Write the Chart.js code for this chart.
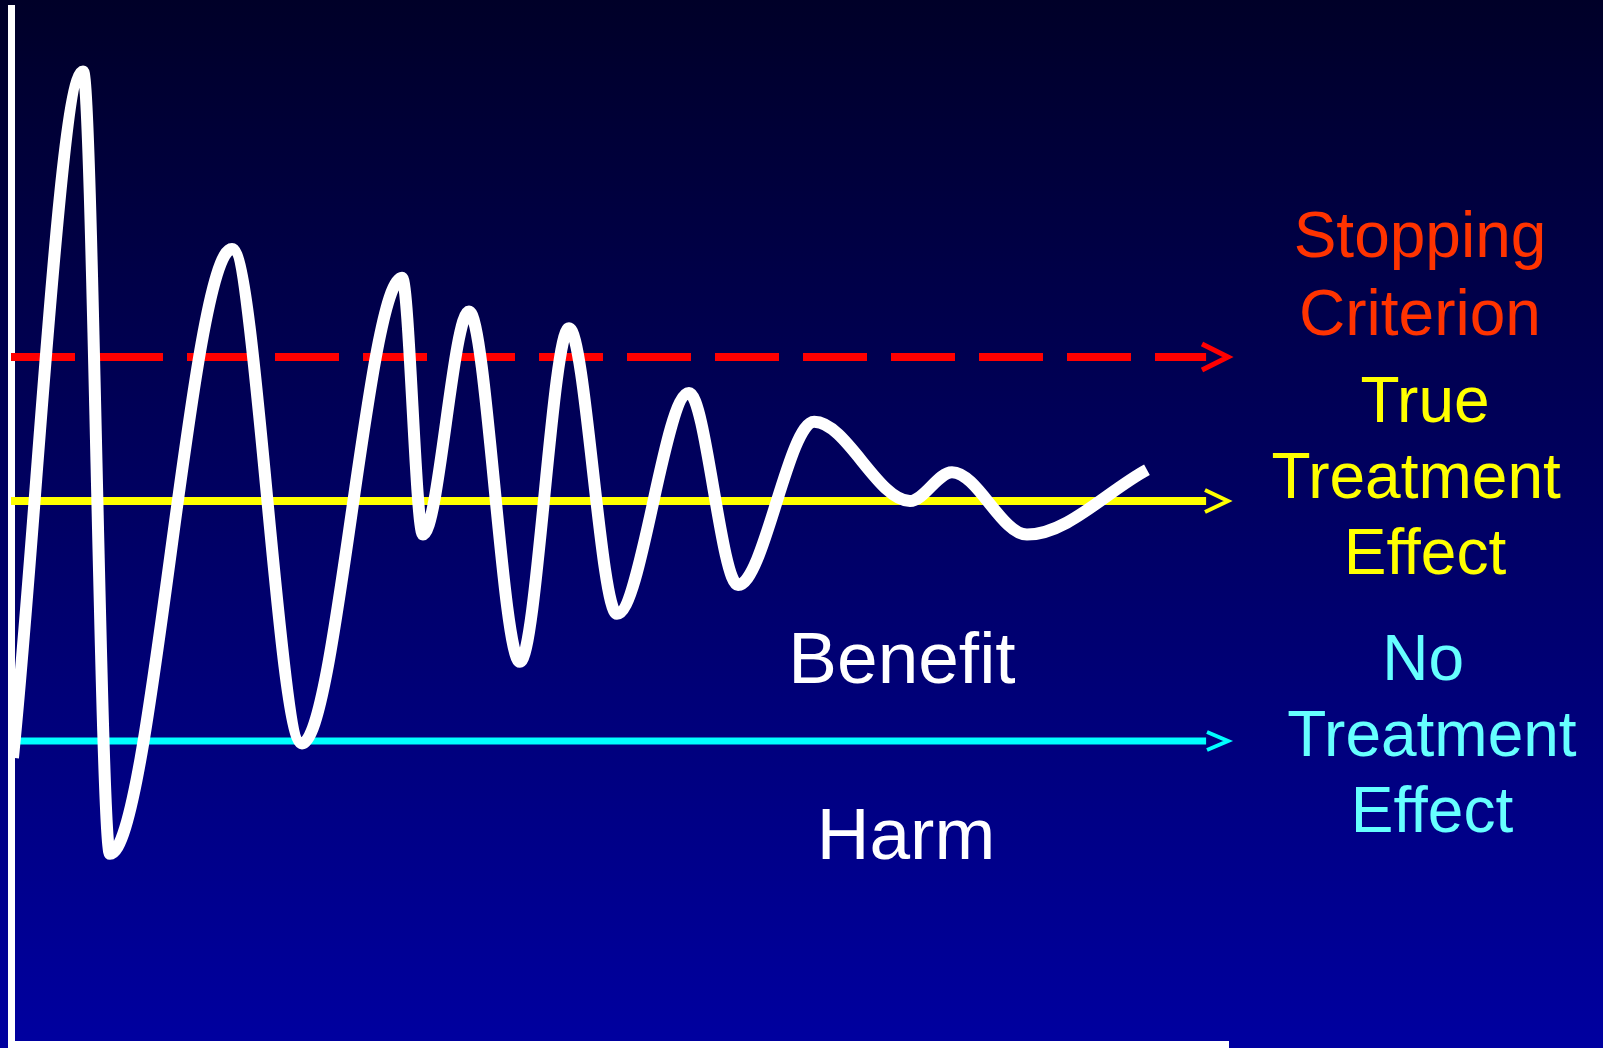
<!DOCTYPE html>
<html>
<head>
<meta charset="utf-8">
<script src="https://cdn.jsdelivr.net/npm/chart.js@4.4.0/dist/chart.umd.min.js"></script>
<style>
  html, body { margin: 0; padding: 0; }
  body {
    width: 1603px; height: 1048px; overflow: hidden; position: relative;
    background: linear-gradient(to bottom, #000028 0%, #0000a0 100%);
    font-family: "Liberation Sans", Arial, sans-serif;
  }
  #trialChart { position: absolute; left: 0; top: 0; }
  .label { position: absolute; width: 400px; text-align: center; font-size: 64px; white-space: nowrap; }
  .zone { font-size: 73px; line-height: 73px; color: #ffffff; }
</style>
</head>
<body>
<canvas id="trialChart" width="1603" height="1048"></canvas>
<div class="label" style="left:1220px; top:196px; line-height:78px; color:#ff3300">Stopping<br>Criterion</div>
<div class="label" style="left:1225px; top:362px; line-height:76px; color:#ffff00">True<br>Treatment&nbsp;<br>Effect</div>
<div class="label" style="left:1232px; top:620px; line-height:76px; color:#66ffff">No&nbsp;<br>Treatment<br>Effect</div>
<div class="label zone" style="left:702px; top:621px;">Benefit</div>
<div class="label zone" style="left:706px; top:797px;">Harm</div>
<script>
// interim looks at the data (x) and the observed treatment effect (y)
// y: 0 = no treatment effect, 1 = true treatment effect
// turning points of the curve
const looks = [
  0.16, 5.92, 8.13, 18.16, 23.91, 32.13, 33.85, 37.63, 41.82,
  45.85, 49.79, 55.71, 59.74, 66.0, 73.87, 77.32, 83.48, 93.34
];
const observed = [
  -0.07, 2.79, -0.47, 2.05, -0.01, 1.93, 0.86, 1.79, 0.33,
  1.72, 0.53, 1.45, 0.65, 1.33, 1.00, 1.12, 0.86, 1.13
];

// horizontal reference levels
const refNames = ['Stopping Criterion', 'True Treatment Effect', 'No Treatment Effect'];
const refLevels = [1.6, 1.0, 0];
const refStart = 0;
const refEnd = 98.2;

const refLine = (i) => [{ x: refStart, y: refLevels[i] }, { x: refEnd, y: refLevels[i] }];

// open arrow heads at the end of the reference lines
const arrowHeads = {
  id: 'arrowHeads',
  afterDatasetsDraw(chart) {
    const { ctx, scales: { x, y } } = chart;
    chart.data.datasets.forEach((ds) => {
      if (!ds.arrow) return;
      const tip = x.getPixelForValue(x.max);
      const py = y.getPixelForValue(ds.data[0].y);
      ctx.save();
      ctx.strokeStyle = ds.borderColor;
      ctx.lineWidth = ds.arrow.w;
      ctx.beginPath();
      ctx.moveTo(tip - ds.arrow.len, py - ds.arrow.half);
      ctx.lineTo(tip, py);
      ctx.lineTo(tip - ds.arrow.len, py + ds.arrow.half);
      ctx.stroke();
      ctx.restore();
    });
  }
};

new Chart(document.getElementById('trialChart'), {
  type: 'line',
  data: {
    datasets: [
      {
        label: 'Observed effect',
        data: looks.map((t, i) => ({ x: t, y: observed[i] })),
        borderColor: '#ffffff',
        borderWidth: 12,
        borderCapStyle: 'butt',
        borderJoinStyle: 'round',
        cubicInterpolationMode: 'monotone',
        tension: 0.4,
        pointRadius: 0
      },
      {
        label: refNames[0],
        data: refLine(0),
        borderColor: '#ff0000',
        borderWidth: 8,
        borderDash: [64, 24],
        borderCapStyle: 'butt',
        pointRadius: 0,
        arrow: { len: 26, half: 13, w: 5 }
      },
      {
        label: refNames[1],
        data: refLine(1),
        borderColor: '#ffff00',
        borderWidth: 8,
        borderCapStyle: 'butt',
        pointRadius: 0,
        arrow: { len: 23, half: 11, w: 4 }
      },
      {
        label: refNames[2],
        data: refLine(2),
        borderColor: '#00ffff',
        borderWidth: 7,
        borderCapStyle: 'butt',
        pointRadius: 0,
        arrow: { len: 21, half: 9, w: 4 }
      }
    ]
  },
  options: {
    responsive: false,
    animation: false,
    events: [],
    layout: { padding: { left: 11, right: 375, top: 8, bottom: 4 } },
    plugins: { legend: { display: false }, tooltip: { enabled: false } },
    scales: {
      x: {
        type: 'linear',
        min: 0,
        max: 100,
        ticks: { display: false },
        grid: { display: false, drawTicks: false },
        border: { color: '#ffffff', width: 7 }
      },
      y: {
        type: 'linear',
        min: -1.2625,
        max: 3.0542,
        ticks: { display: false },
        grid: { display: false, drawTicks: false },
        border: { color: '#ffffff', width: 7 }
      }
    }
  },
  plugins: [arrowHeads]
});
</script>
</body>
</html>
